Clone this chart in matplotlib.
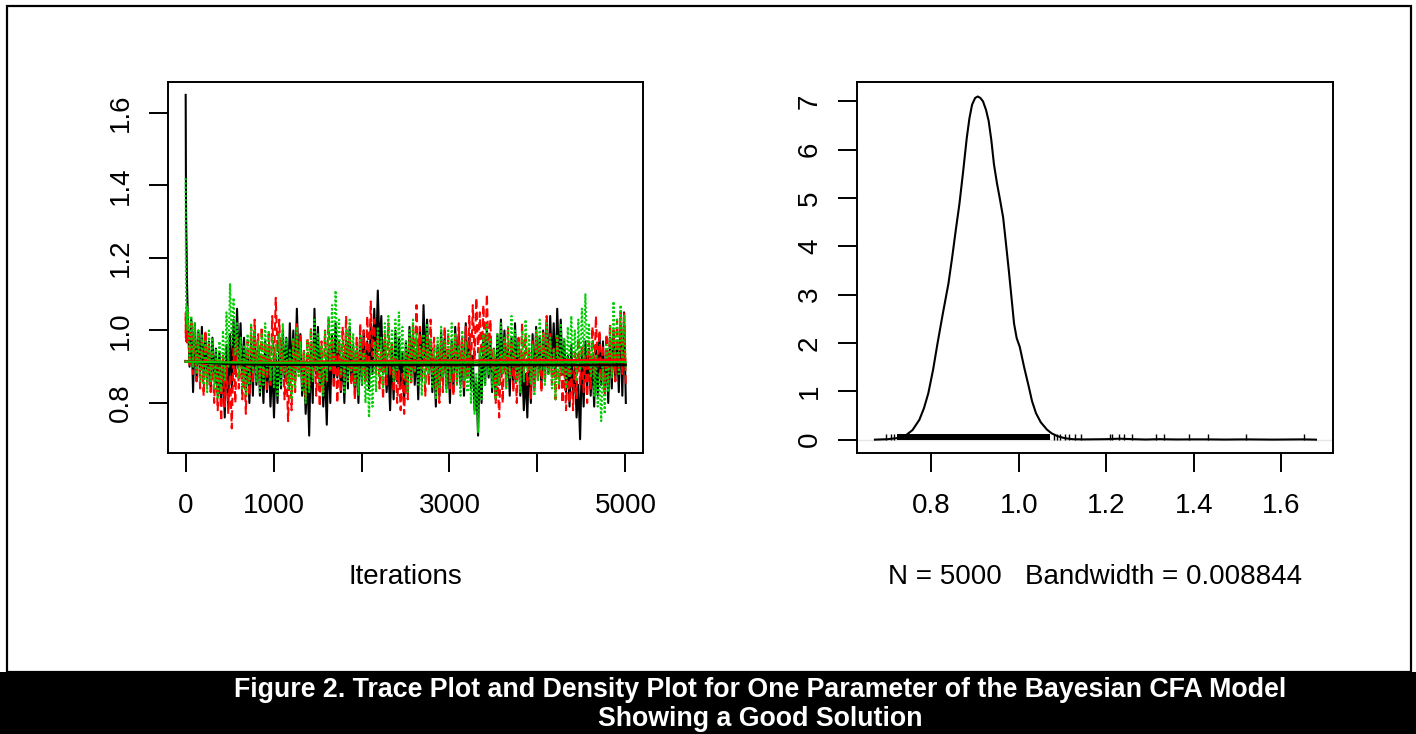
import numpy as np
import matplotlib
matplotlib.use('Agg')
import matplotlib.pyplot as plt
from matplotlib.patches import Rectangle

plt.rcParams['font.family'] = ['Liberation Sans', 'DejaVu Sans']

# ---------------------------------------------------------------------------
# datos
# ---------------------------------------------------------------------------
# primeras iteraciones (quemado) de cada cadena
iters_burn = [1, 2, 3, 4, 5, 6, 8, 10, 12, 15, 18, 21]
black_burn = [1.65, 1.52, 1.43, 1.39, 1.33, 1.31, 1.26, 1.24, 1.21, 1.14, 1.11, 1.08]
red_burn   = [1.05, 1.02, 0.98, 1.04, 0.99, 1.03, 0.97, 1.01, 1.05, 0.99, 1.02, 0.96]
green_burn = [1.42, 1.23, 1.21, 1.13, 1.10, 1.09, 1.06, 1.04, 1.07, 1.02, 1.05, 1.00]

# resto de cada cadena: maximo y minimo en tramos de 40 iteraciones
tramo = 40
black_hi = [
    1.04, 1.03, 1.02, 1.00, 1.01, 0.99, 0.97, 0.98, 0.95, 0.94, 0.92, 0.96, 0.99, 1.03, 1.06, 1.02, 0.98, 0.95, 0.97, 1.00, 0.96, 0.93, 0.97, 0.95, 0.91,
    0.93, 0.97, 1.00, 0.98, 1.02, 1.00, 1.06, 0.99, 0.92, 0.88, 0.96, 1.06, 1.01, 0.94, 0.89, 0.95, 0.99, 1.02, 0.97, 0.93, 0.98, 1.01, 0.96, 0.94, 0.99,
    1.00, 0.97, 1.02, 1.06, 1.11, 1.04, 0.97, 0.91, 0.95, 1.00, 0.98, 0.94, 0.97, 1.01, 0.99, 0.95, 1.00, 1.07, 1.03, 0.97, 0.93, 0.96, 1.00, 0.98, 0.94,
    0.97, 1.01, 0.99, 0.96, 1.02, 0.98, 0.93, 0.86, 0.94, 0.99, 1.01, 0.97, 0.95, 0.99, 1.03, 1.00, 0.96, 0.98, 1.02, 0.97, 0.92, 0.88, 0.94, 0.99, 1.01,
    0.98, 1.00, 1.03, 1.04, 1.02, 1.06, 1.03, 0.97, 0.93, 0.96, 0.90, 0.85, 0.93, 0.97, 0.95, 0.92, 0.96, 0.99, 0.97, 0.94, 0.98, 1.00, 0.97, 1.02, 1.05,
]
black_lo = [
    0.90, 0.83, 0.86, 0.88, 0.87, 0.85, 0.84, 0.86, 0.82, 0.80, 0.76, 0.79, 0.84, 0.88, 0.90, 0.86, 0.83, 0.80, 0.82, 0.85, 0.82, 0.80, 0.83, 0.79, 0.76,
    0.80, 0.84, 0.87, 0.85, 0.88, 0.86, 0.90, 0.82, 0.77, 0.71, 0.80, 0.88, 0.84, 0.79, 0.74, 0.80, 0.85, 0.87, 0.83, 0.80, 0.84, 0.86, 0.82, 0.80, 0.85,
    0.86, 0.84, 0.88, 0.92, 0.95, 0.88, 0.83, 0.78, 0.81, 0.86, 0.84, 0.80, 0.83, 0.87, 0.85, 0.81, 0.86, 0.91, 0.88, 0.83, 0.79, 0.82, 0.86, 0.84, 0.80,
    0.84, 0.87, 0.85, 0.82, 0.87, 0.84, 0.78, 0.71, 0.80, 0.85, 0.87, 0.83, 0.81, 0.85, 0.89, 0.86, 0.82, 0.84, 0.87, 0.82, 0.78, 0.76, 0.80, 0.85, 0.87,
    0.84, 0.86, 0.88, 0.90, 0.87, 0.91, 0.88, 0.83, 0.79, 0.82, 0.76, 0.70, 0.79, 0.84, 0.82, 0.79, 0.82, 0.85, 0.83, 0.80, 0.84, 0.86, 0.83, 0.82, 0.80,
]
red_hi = [
    1.05, 1.02, 1.01, 0.99, 0.97, 1.00, 0.96, 0.94, 0.92, 0.90, 0.93, 0.91, 0.88, 0.95, 0.98, 0.96, 0.92, 0.97, 1.01, 1.03, 0.99, 1.01, 0.97, 0.99, 1.04,
    1.09, 1.03, 0.96, 0.90, 0.92, 0.97, 1.02, 0.99, 0.95, 0.98, 1.01, 0.96, 0.93, 0.97, 1.00, 1.03, 0.98, 0.94, 0.97, 1.01, 1.04, 0.99, 0.95, 0.98, 1.02,
    1.00, 1.04, 1.08, 1.03, 0.98, 0.95, 0.99, 1.02, 0.97, 0.93, 0.89, 0.88, 0.94, 0.98, 1.02, 1.07, 1.01, 0.96, 0.99, 1.03, 0.98, 0.94, 0.97, 1.01, 0.99,
    0.96, 0.99, 1.02, 0.98, 1.01, 1.04, 1.07, 1.09, 1.05, 1.07, 1.10, 1.03, 0.95, 0.89, 0.94, 0.98, 1.01, 0.97, 0.94, 0.98, 1.02, 0.99, 0.95, 0.97, 1.00,
    0.97, 1.00, 1.04, 0.99, 0.95, 0.98, 0.93, 0.90, 0.92, 0.89, 0.94, 0.98, 0.96, 0.93, 0.97, 1.01, 1.04, 1.00, 0.96, 0.99, 1.02, 1.00, 1.03, 1.05, 1.05,
]
red_lo = [
    0.90, 0.88, 0.86, 0.84, 0.82, 0.85, 0.83, 0.80, 0.78, 0.75, 0.79, 0.77, 0.73, 0.80, 0.84, 0.81, 0.77, 0.82, 0.86, 0.88, 0.85, 0.87, 0.83, 0.85, 0.90,
    0.94, 0.88, 0.81, 0.75, 0.78, 0.83, 0.88, 0.85, 0.81, 0.84, 0.87, 0.82, 0.79, 0.83, 0.86, 0.89, 0.84, 0.80, 0.83, 0.87, 0.90, 0.85, 0.81, 0.84, 0.88,
    0.86, 0.90, 0.93, 0.88, 0.84, 0.81, 0.85, 0.88, 0.83, 0.80, 0.78, 0.77, 0.81, 0.85, 0.88, 0.92, 0.87, 0.82, 0.85, 0.88, 0.84, 0.80, 0.83, 0.86, 0.84,
    0.82, 0.85, 0.88, 0.84, 0.87, 0.90, 0.92, 0.94, 0.90, 0.91, 0.93, 0.87, 0.80, 0.76, 0.80, 0.84, 0.87, 0.83, 0.80, 0.84, 0.88, 0.85, 0.81, 0.83, 0.86,
    0.83, 0.86, 0.89, 0.85, 0.81, 0.84, 0.80, 0.78, 0.80, 0.78, 0.81, 0.85, 0.83, 0.80, 0.84, 0.87, 0.90, 0.86, 0.82, 0.85, 0.88, 0.86, 0.89, 0.88, 0.85,
]
green_hi = [
    1.06, 1.04, 1.02, 1.00, 0.99, 0.97, 1.00, 0.98, 0.95, 0.97, 1.00, 1.05, 1.13, 1.09, 1.02, 0.98, 0.96, 0.99, 1.02, 1.00, 0.97, 0.99, 1.02, 1.00, 0.98,
    0.96, 0.99, 1.02, 0.98, 0.95, 0.98, 1.01, 0.97, 0.94, 0.97, 1.00, 1.03, 0.99, 0.96, 1.00, 1.04, 1.07, 1.11, 1.03, 0.97, 1.00, 1.03, 0.99, 0.96, 0.99,
    0.94, 0.90, 0.92, 0.97, 1.01, 0.98, 1.02, 1.04, 1.00, 1.03, 1.05, 1.01, 0.97, 1.00, 1.03, 0.99, 0.96, 0.99, 1.02, 0.98, 0.95, 0.98, 1.01, 0.97, 1.00,
    1.02, 0.99, 0.96, 1.00, 0.97, 0.94, 0.90, 0.88, 0.95, 0.99, 1.02, 0.98, 0.95, 0.99, 1.02, 0.98, 1.01, 1.04, 1.00, 0.97, 1.00, 1.03, 0.99, 0.96, 1.00,
    1.03, 0.99, 1.02, 0.98, 0.95, 0.99, 1.02, 0.98, 1.01, 1.04, 1.00, 1.03, 1.06, 1.10, 1.02, 0.97, 0.93, 0.88, 0.90, 0.96, 1.01, 1.08, 1.03, 1.07, 1.04,
]
green_lo = [
    0.92, 0.90, 0.88, 0.86, 0.85, 0.83, 0.86, 0.84, 0.81, 0.83, 0.86, 0.90, 0.96, 0.93, 0.87, 0.84, 0.82, 0.85, 0.88, 0.86, 0.83, 0.85, 0.88, 0.86, 0.84,
    0.82, 0.85, 0.88, 0.84, 0.81, 0.84, 0.87, 0.83, 0.80, 0.83, 0.86, 0.89, 0.85, 0.82, 0.86, 0.89, 0.91, 0.94, 0.88, 0.83, 0.86, 0.89, 0.85, 0.82, 0.85,
    0.80, 0.76, 0.79, 0.83, 0.87, 0.84, 0.88, 0.90, 0.86, 0.89, 0.91, 0.87, 0.83, 0.86, 0.89, 0.85, 0.82, 0.85, 0.88, 0.84, 0.81, 0.84, 0.87, 0.83, 0.86,
    0.88, 0.85, 0.82, 0.86, 0.83, 0.80, 0.77, 0.72, 0.81, 0.85, 0.88, 0.84, 0.81, 0.85, 0.88, 0.84, 0.87, 0.90, 0.86, 0.83, 0.86, 0.89, 0.85, 0.82, 0.86,
    0.89, 0.85, 0.88, 0.84, 0.81, 0.85, 0.88, 0.84, 0.87, 0.90, 0.86, 0.89, 0.91, 0.93, 0.87, 0.82, 0.79, 0.75, 0.77, 0.83, 0.87, 0.92, 0.88, 0.91, 0.89,
]

# curvas suavizadas (lowess) de cada cadena
smooth_x     = [1, 500, 1000, 2000, 3000, 4000, 5000]
smooth_black = [0.915, 0.908, 0.906, 0.905, 0.905, 0.905, 0.905]
smooth_red   = [0.915, 0.913, 0.913, 0.915, 0.917, 0.918, 0.919]
smooth_green = [0.914, 0.912, 0.911, 0.911, 0.912, 0.912, 0.913]

# densidad estimada (panel derecho)
dens_x = [0.671, 0.700, 0.720, 0.739, 0.757, 0.7725, 0.783, 0.793, 0.804, 0.814,
          0.826, 0.839, 0.8475, 0.856, 0.864, 0.872, 0.881, 0.887, 0.893, 0.900,
          0.906, 0.912, 0.918, 0.925, 0.931, 0.937, 0.943, 0.950, 0.956, 0.964,
          0.970, 0.977, 0.983, 0.989, 0.995, 1.002, 1.012, 1.0225, 1.030, 1.039,
          1.050, 1.064, 1.075, 1.089, 1.105, 1.1225, 1.150, 1.200, 1.230, 1.260,
          1.290, 1.320, 1.360, 1.390, 1.430, 1.470, 1.520, 1.580, 1.650, 1.679]
dens_y = [0.0, 0.01, 0.03, 0.07, 0.20, 0.41, 0.65, 0.96, 1.45, 1.99,
          2.60, 3.23, 3.77, 4.35, 4.87, 5.50, 6.25, 6.65, 6.93, 7.07,
          7.10, 7.07, 7.00, 6.82, 6.59, 6.20, 5.70, 5.30, 5.01, 4.60,
          4.10, 3.50, 2.95, 2.40, 2.10, 1.92, 1.50, 1.10, 0.80, 0.55,
          0.36, 0.21, 0.13, 0.07, 0.03, 0.01, 0.005, 0.01, 0.02, 0.01,
          0.003, 0.01, 0.004, 0.006, 0.006, 0.002, 0.006, 0.001, 0.006, 0.0]

# rug: tramo continuo y marcas sueltas en las colas
rug_dense = [0.722, 1.072]
rug_tail = [0.697, 0.708, 0.715, 1.080, 1.087, 1.095, 1.106, 1.114, 1.129, 1.141,
            1.208, 1.213, 1.228, 1.240, 1.259, 1.314, 1.331, 1.388, 1.432, 1.518, 1.651]

n_label = 'N = 5000   Bandwidth = 0.008844'
caption = ['Figure 2. Trace Plot and Density Plot for One Parameter of the Bayesian CFA Model',
           'Showing a Good Solution']

verde = '#00CD00'
grosor = 1.5
fs = 20

# ---------------------------------------------------------------------------
# figura
# ---------------------------------------------------------------------------
W, H = 1416, 734
fig = plt.figure(figsize=(W / 100, H / 100), dpi=100)

def caja(x0, y0, x1, y1):
    # posicion de un axes en pixeles (origen arriba a la izquierda)
    return [x0 / W, 1 - y1 / H, (x1 - x0) / W, (y1 - y0) / H]

def cadena(burn, hi, lo):
    # recorrido de la cadena: quemado y luego max/min de cada tramo
    n = len(hi)
    x = np.empty(2 * n)
    y = np.empty(2 * n)
    x[0::2] = 25 + tramo * np.arange(n)
    x[1::2] = 45 + tramo * np.arange(n)
    y[0::2] = hi
    y[1::2] = lo
    return np.concatenate([iters_burn, x]), np.concatenate([burn, y])

ax1 = fig.add_axes(caja(168, 82, 643, 453))
ax2 = fig.add_axes(caja(857, 82, 1333, 453))

# --- traza ---
xb, yb = cadena(black_burn, black_hi, black_lo)
xr, yr = cadena(red_burn, red_hi, red_lo)
xg, yg = cadena(green_burn, green_hi, green_lo)
ax1.plot(xb, yb, color='black', lw=grosor, ls='-')
ax1.plot(xr, yr, color='red', lw=grosor, ls=(0, (4, 2)))
ax1.plot(xg, yg, color=verde, lw=grosor, ls=(0, (1, 1)))
ax1.plot(smooth_x, smooth_black, color='black', lw=2.0)
ax1.plot(smooth_x, smooth_red, color='red', lw=1.6)
ax1.plot(smooth_x, smooth_green, color=verde, lw=1.6)

ax1.set_xlim(-200, 5200)
ax1.set_ylim(0.662, 1.6855)
ax1.set_xticks([0, 1000, 2000, 3000, 4000, 5000])
ax1.set_xticklabels(['0', '1000', '', '3000', '', '5000'])
ax1.set_yticks([0.8, 1.0, 1.2, 1.4, 1.6])
ax1.set_yticklabels(['0.8', '1.0', '1.2', '1.4', '1.6'])

# --- densidad ---
ax2.axhline(0, color='#e6e6e6', lw=1.0, zorder=0)
ax2.fill_between(rug_dense, 0, 0.11, color='black', lw=0)
ax2.vlines(rug_tail, 0, 0.11, color='black', lw=1.0)
ax2.plot(dens_x, dens_y, color='black', lw=grosor)
ax2.set_xlim(0.630, 1.718)
ax2.set_ylim(-0.276, 7.40)
ax2.set_xticks([0.8, 1.0, 1.2, 1.4, 1.6])
ax2.set_xticklabels(['0.8', '1.0', '1.2', '1.4', '1.6'])
ax2.set_yticks(range(8))
ax2.set_yticklabels([str(i) for i in range(8)])

for ax in (ax1, ax2):
    for s in ax.spines.values():
        s.set_linewidth(1.4)
    ax.tick_params(direction='out', length=13.5, width=1.4, labelsize=fs)
    ax.tick_params(axis='x', pad=15)
    ax.tick_params(axis='y', pad=11)
    for lab in ax.get_yticklabels():
        lab.set_rotation(90)
        lab.set_va('center')

fig.text(405.5 / W, 1 - 577 / H, 'Iterations', ha='center', va='center', fontsize=fs)
fig.text(1095 / W, 1 - 577 / H, n_label, ha='center', va='center', fontsize=fs)

# marco exterior y franja negra del pie
fig.patches.append(Rectangle((7 / W, 1 - 672 / H), 1404 / W, 666 / H, transform=fig.transFigure,
                             fill=False, edgecolor='black', lw=1.6))
fig.patches.append(Rectangle((0, 0), 1, 62 / H, transform=fig.transFigure,
                             facecolor='black', edgecolor='none'))
fig.text(760 / W, 1 - 690 / H, caption[0], ha='center', va='center', color='white',
         fontsize=19.3, fontweight='bold')
fig.text(760 / W, 1 - 719 / H, caption[1], ha='center', va='center', color='white',
         fontsize=19.3, fontweight='bold')

plt.savefig('out.png', dpi=100)
